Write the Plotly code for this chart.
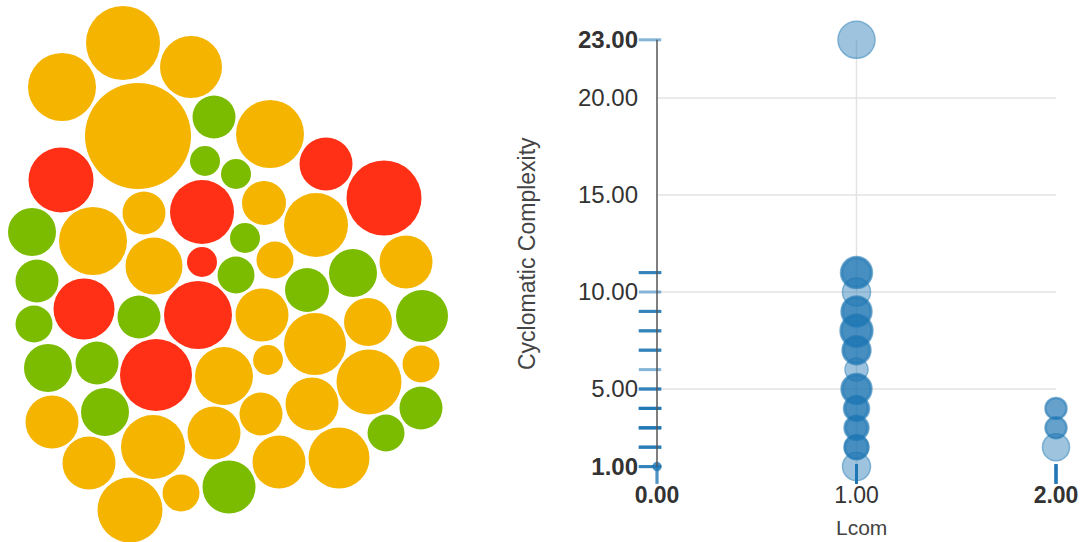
import plotly.graph_objects as go

# ---------------- Left: packed bubbles (status of classes) ----------------
bubble_status = [
    "warn", "warn", "warn", "warn", "ok", "warn", "crit", "ok", "ok", "crit",
    "crit", "crit", "warn", "warn", "warn", "ok", "ok", "warn", "warn", "crit",
    "warn", "ok", "ok", "ok", "warn", "ok", "crit", "ok", "ok", "crit",
    "warn", "warn", "ok", "warn", "ok", "ok", "crit", "warn", "warn", "warn",
    "warn", "warn", "ok", "warn", "warn", "ok", "warn", "warn", "ok", "warn",
    "warn", "warn", "ok", "warn", "warn",
]
bubble_value = [
    37, 34, 31, 53, 21.5, 34, 32.5, 15, 15, 26.5,
    37.5, 32, 21.5, 22, 32, 15, 24, 34, 28.5, 15,
    18.5, 18.5, 22, 24, 26.5, 21.5, 30.5, 18.5, 21.5, 34,
    26.5, 24, 26, 31, 24, 21.5, 36, 29, 15, 32.5,
    18.5, 26.5, 24, 26.5, 21.5, 21.5, 32, 26.5, 18.5, 26.5,
    26.5, 30.5, 26.5, 18.5, 32.5,
]
# layout positions produced by the packing (pixel space of the left panel)
pack_x = [
    123, 62, 191, 138, 214, 270, 61, 205, 236, 326,
    384, 202, 144, 264, 316, 245, 32, 93, 154, 202,
    275, 236, 307, 353, 406, 37, 84, 34, 139, 198,
    262, 368, 422, 315, 48, 97, 156, 224, 268, 369,
    421, 52, 105, 312, 261, 421, 153, 214, 386, 89,
    279, 339, 229, 181, 130,
]
pack_y = [
    43, 87, 67, 136, 117, 134, 180, 161, 174, 164,
    198, 212, 213, 203, 225, 238, 232, 241, 266, 262,
    260, 275, 290, 273, 262, 281, 309, 324, 317, 315,
    315, 322, 316, 344, 368, 363, 375, 376, 360, 382,
    364, 422, 412, 404, 414, 408, 447, 433, 433, 463,
    462, 458, 487, 493, 510,
]
status_colors = {"warn": "#F4B400", "crit": "#FF3016", "ok": "#7BBB00"}

# ---------------- Right: Lcom vs Cyclomatic Complexity ----------------
lcom = [0, 0,
        1,
        1, 1, 1,
        1,
        1, 1, 1,
        1, 1, 1,
        1, 1, 1,
        1,
        1, 1, 1,
        1, 1, 1,
        1, 1, 1,
        1, 1, 1,
        1,
        2, 2,
        2, 2,
        2]
cc = [1, 1,
      23,
      11, 11, 11,
      10,
      9, 9, 9,
      8, 8, 8,
      7, 7, 7,
      6,
      5, 5, 5,
      4, 4, 4,
      3, 3, 3,
      2, 2, 2,
      1,
      4, 4,
      3, 3,
      2]
size_metric = [8, 7,
               37,
               32, 30, 28,
               28,
               31, 29, 27,
               33, 31, 29,
               29, 27, 25,
               23,
               31, 29, 27,
               26, 24, 22,
               25, 23, 21,
               25, 24, 22,
               28,
               22, 20,
               22, 20,
               27]

y_ticks = [1, 5, 10, 15, 20, 23]
y_ticktext = ["<b>1.00</b>", "5.00", "10.00", "15.00", "20.00", "<b>23.00</b>"]
y_grid = [5, 10, 15, 20]
x_ticks = [0, 1, 2]
x_ticktext = ["<b>0.00</b>", "1.00", "<b>2.00</b>"]
x_grid = [1]

FONT = "Liberation Sans, Arial, sans-serif"
BLUE = "31,119,180"
W, H = 1086, 542

# pixel placement of the scatter panel
X_AT0, X_PER = 657.0, 199.5        # px of lcom=0, px per unit
Y_AT1, Y_PER = 466.6, 19.4         # px of cc=1, px per unit
XR = [-0.1, 2.1]                   # padded so that rug ticks stay inside range
YR = [0.3, 23.5]


def xpx(v):
    return X_AT0 + X_PER * v


def ypx(v):
    return Y_AT1 - Y_PER * (v - 1)


fig = go.Figure()

# bubbles
fig.add_trace(go.Scatter(
    x=pack_x, y=pack_y, mode="markers",
    marker=dict(size=[2 * v for v in bubble_value],
                color=[status_colors[s] for s in bubble_status],
                line=dict(width=0), opacity=1),
    xaxis="x2", yaxis="y2", hoverinfo="skip", showlegend=False,
))

# rug on the y axis
fig.add_trace(go.Scatter(
    x=[-0.035] * len(cc), y=cc, mode="markers",
    marker=dict(symbol="line-ew", size=16,
                line=dict(width=3, color=f"rgba({BLUE},0.55)")),
    cliponaxis=False, hoverinfo="skip", showlegend=False,
))
# rug on the x axis
fig.add_trace(go.Scatter(
    x=lcom, y=[0.62] * len(lcom), mode="markers",
    marker=dict(symbol="line-ns", size=14,
                line=dict(width=3, color=f"rgba({BLUE},0.55)")),
    cliponaxis=False, hoverinfo="skip", showlegend=False,
))
# points
fig.add_trace(go.Scatter(
    x=lcom, y=cc, mode="markers",
    marker=dict(size=size_metric, sizemode="diameter",
                color=f"rgba({BLUE},0.62)",
                line=dict(width=1.5, color=f"rgba({BLUE},0.78)")),
    cliponaxis=False, showlegend=False,
))

shapes = []
for g in y_grid:
    shapes.append(dict(type="line", xref="x", yref="y", x0=0, x1=2, y0=g, y1=g,
                       line=dict(color="#E3E3E3", width=1.5), layer="below"))
for g in x_grid:
    shapes.append(dict(type="line", xref="x", yref="y", x0=g, x1=g, y0=1, y1=23,
                       line=dict(color="#E3E3E3", width=1.5), layer="below"))

fig.update_layout(
    width=W, height=H,
    margin=dict(l=0, r=0, t=0, b=0, autoexpand=False),
    paper_bgcolor="white", plot_bgcolor="rgba(0,0,0,0)",
    font=dict(family=FONT, size=22, color="#444"),
    shapes=shapes,
    xaxis=dict(domain=[xpx(XR[0]) / W, xpx(XR[1]) / W], range=XR,
               anchor="free", position=1 - Y_AT1 / H,
               showgrid=False, zeroline=False, showline=False,
               tickvals=x_ticks, ticktext=x_ticktext,
               ticks="", ticklabelstandoff=12, automargin=False,
               tickfont=dict(family=FONT, size=23, color="#333")),
    yaxis=dict(domain=[1 - ypx(YR[0]) / H, 1 - ypx(YR[1]) / H], range=YR,
               anchor="free", position=X_AT0 / W,
               showgrid=False, zeroline=False, showline=False,
               tickvals=y_ticks, ticktext=y_ticktext,
               ticks="", ticklabelstandoff=19, automargin=False,
               tickfont=dict(family=FONT, size=24, color="#333")),
    xaxis2=dict(domain=[0, 480 / W], range=[0, 480], visible=False,
                anchor="y2", automargin=False),
    yaxis2=dict(domain=[0, 1], range=[H, 0], visible=False,
                anchor="x2", automargin=False),
    annotations=[
        dict(text="Cyclomatic Complexity", xref="paper", yref="paper",
             x=527 / W, y=1 - 254 / H, textangle=-90, showarrow=False,
             font=dict(family=FONT, size=23, color="#444"),
             xanchor="center", yanchor="middle"),
        dict(text="Lcom", xref="paper", yref="paper",
             x=861 / W, y=1 - 527 / H, showarrow=False,
             font=dict(family=FONT, size=21, color="#444"),
             xanchor="center", yanchor="middle"),
    ],
)
# the y axis line (cc from 1 to 23 at lcom = 0)
fig.add_shape(type="line", xref="x", yref="y", x0=0, x1=0, y0=1, y1=23,
              line=dict(color="#555", width=1.5), layer="above")

fig.write_html(
    "out.html",
    config={"displayModeBar": False},
    post_script="document.body.style.margin='0';document.body.style.overflow='hidden';",
)
